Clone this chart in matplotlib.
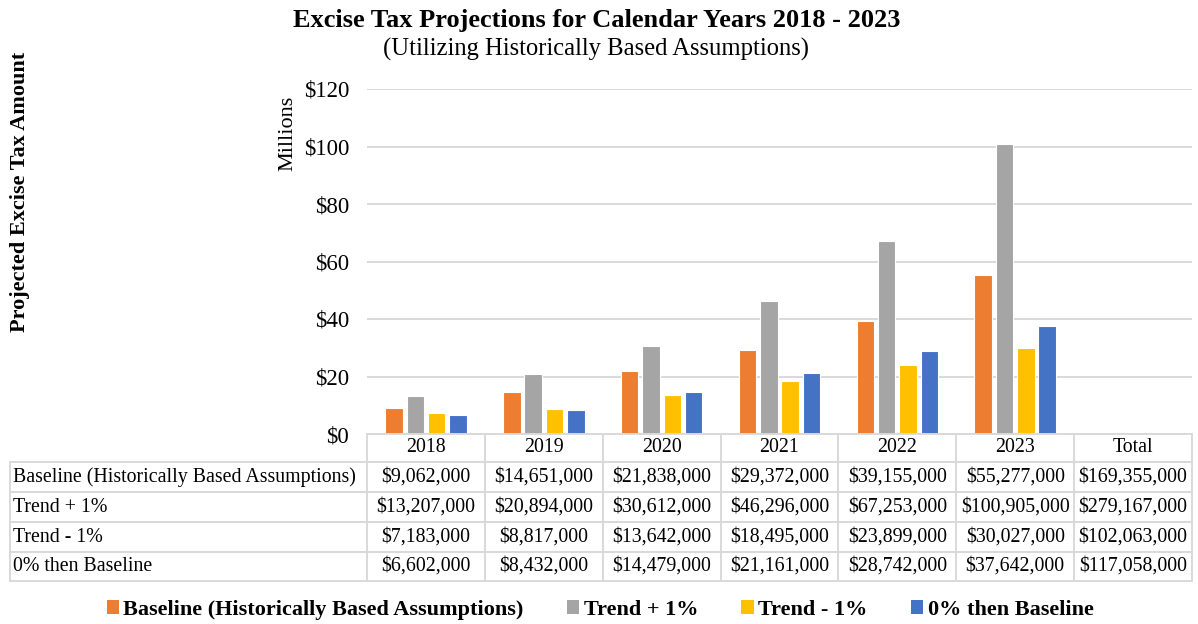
import numpy as np
import matplotlib
matplotlib.use("Agg")
import matplotlib.pyplot as plt
from matplotlib.patches import Patch
from matplotlib.table import Table

plt.rcParams['font.family'] = ['Liberation Serif', 'DejaVu Serif']

# data (dollars)
years = ["2018", "2019", "2020", "2021", "2022", "2023"]
columns = years + ["Total"]
series = ["Baseline (Historically Based Assumptions)", "Trend + 1%", "Trend - 1%", "0% then Baseline"]
baseline = [9062000, 14651000, 21838000, 29372000, 39155000, 55277000]
trend_up = [13207000, 20894000, 30612000, 46296000, 67253000, 100905000]
trend_down = [7183000, 8817000, 13642000, 18495000, 23899000, 30027000]
zero_then = [6602000, 8432000, 14479000, 21161000, 28742000, 37642000]
totals = [169355000, 279167000, 102063000, 117058000]
colors = ["#ED7D31", "#A5A5A5", "#FFC000", "#4472C4"]

all_series = [baseline, trend_up, trend_down, zero_then]

W, H = 1198, 624
fig = plt.figure(figsize=(W / 100, H / 100), dpi=100)

# bar area
ax = fig.add_axes([367 / W, (H - 434) / H, 825 / W, 345 / H])
x = np.arange(len(years))
step = 0.181
for i, vals in enumerate(all_series):
    ax.bar(x + (i - 1.5) * step, np.array(vals) / 1e6, width=0.148,
           color=colors[i], edgecolor="white", linewidth=0.8, zorder=3)
ax.set_xlim(-0.5, len(columns) - 0.5)
ax.set_ylim(0, 120)
ax.set_yticks(np.arange(0, 121, 20))
ax.yaxis.set_major_formatter(matplotlib.ticker.FuncFormatter(lambda v, p: f"${v:.0f}"))
ax.set_xticks([])
ax.tick_params(axis="y", length=0, pad=13, labelsize=16.5)
for s in ax.spines.values():
    s.set_visible(False)
ax.grid(axis="y", color="#D9D9D9", linewidth=1.4, zorder=0)
ax.set_axisbelow(True)

# data table
tax = fig.add_axes([10 / W, (H - 581) / H, 1182 / W, 147 / H])
tax.axis("off")
tbl = Table(tax, bbox=[0, 0, 1, 1])
widths = [357] + [825 / 7] * 7
heights = [28, 30, 30, 30, 29]
rows = [[""] + columns]
for j, name in enumerate(series):
    rows.append([name] + [f"${v:,.0f}" for v in all_series[j]] + [f"${totals[j]:,.0f}"])
for r, row in enumerate(rows):
    for c, txt in enumerate(row):
        cell = tbl.add_cell(r, c, widths[c], heights[r], text=txt,
                            loc="left" if c == 0 else "center",
                            facecolor="white", edgecolor="#D9D9D9")
        cell.set_linewidth(1.4)
        if r == 0 and c == 0:
            cell.visible_edges = ""
        if c == 0:
            cell.PAD = 0.008
tbl.auto_set_font_size(False)
tbl.set_fontsize(14.3)
tax.add_table(tbl)

# titles and labels
fig.text(597 / W, 1 - 20 / H, "Excise Tax Projections for Calendar Years 2018 - 2023",
         ha="center", va="center", fontsize=19, fontweight="bold")
fig.text(596 / W, 1 - 49 / H, "(Utilizing Historically Based Assumptions)",
         ha="center", va="center", fontsize=17.7)
fig.text(288 / W, 1 - 133 / H, "Millions", rotation=90, ha="center", va="center", fontsize=16)
fig.text(20 / W, 1 - 192 / H, "Projected Excise Tax Amount", rotation=90,
         ha="center", va="center", fontsize=16, fontweight="bold")

handles = [Patch(facecolor=c, edgecolor="none") for c in colors]
fig.legend(handles, series, loc="center", bbox_to_anchor=(600 / W, 1 - 610 / H), ncol=4,
           frameon=False, handlelength=0.55, handleheight=0.55, handletextpad=0.2,
           columnspacing=1.95, prop={"weight": "bold", "size": 16})

fig.savefig("out.png", dpi=100)
